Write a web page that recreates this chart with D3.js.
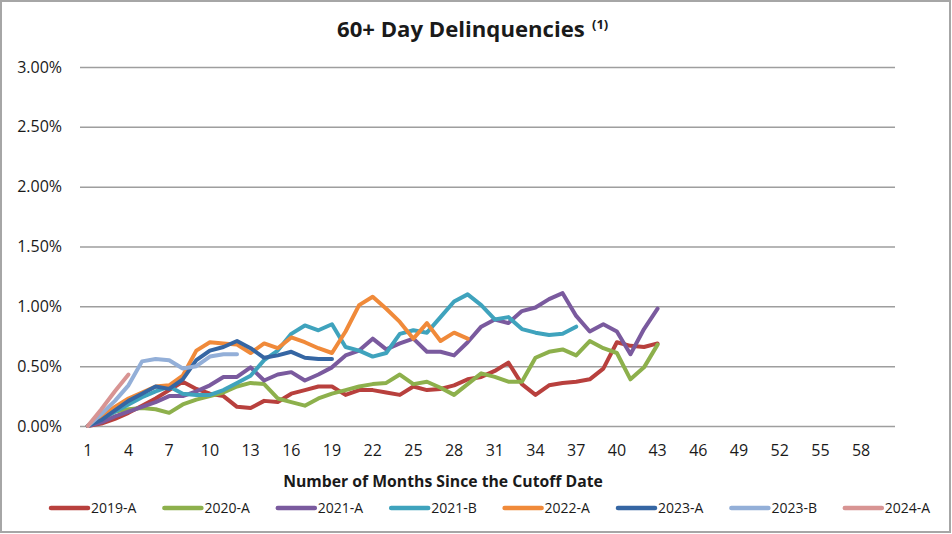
<!DOCTYPE html>
<html>
<head>
<meta charset="utf-8">
<script src="https://cdn.jsdelivr.net/npm/d3@7"></script>
<style>
  html, body { margin: 0; padding: 0; background: #fff; }
  svg { display: block; }
  text { font-family: "Open Sans", "Noto Sans", sans-serif; fill: #1a1a1a; }
</style>
</head>
<body>
<svg id="chart" width="952" height="534"></svg>
<script>
// ---------- data (values in percent) ----------
const months = d3.range(1, 61);
const xTickLabels = [1, 4, 7, 10, 13, 16, 19, 22, 25, 28, 31, 34, 37, 40, 43, 46, 49, 52, 55, 58];
const yTickValues = [0, 0.5, 1.0, 1.5, 2.0, 2.5, 3.0];
const seriesNames = ["2019-A", "2020-A", "2021-A", "2021-B", "2022-A", "2023-A", "2023-B", "2024-A"];
const seriesColors = ["#B8403D", "#8DB04C", "#7A5A9E", "#3FA3BD", "#F08A3A", "#3566A3", "#93AFD8", "#D89493"];

const s2019A = [0.00, 0.02, 0.06, 0.11, 0.17, 0.23, 0.30, 0.37, 0.31, 0.27, 0.25, 0.16, 0.15, 0.21, 0.20, 0.27, 0.30, 0.33, 0.33, 0.26,
                0.30, 0.30, 0.28, 0.26, 0.33, 0.30, 0.31, 0.34, 0.39, 0.41, 0.46, 0.53, 0.35, 0.26, 0.34, 0.36, 0.37, 0.39, 0.48, 0.70,
                0.67, 0.66, 0.69];
const s2020A = [0.00, 0.06, 0.12, 0.14, 0.15, 0.14, 0.11, 0.18, 0.22, 0.25, 0.28, 0.33, 0.36, 0.35, 0.23, 0.20, 0.17, 0.23, 0.27, 0.30,
                0.33, 0.35, 0.36, 0.43, 0.35, 0.37, 0.32, 0.26, 0.35, 0.44, 0.41, 0.37, 0.37, 0.57, 0.62, 0.64, 0.59, 0.71, 0.65, 0.61,
                0.39, 0.49, 0.68];
const s2021A = [0.00, 0.03, 0.08, 0.12, 0.16, 0.20, 0.25, 0.25, 0.29, 0.34, 0.41, 0.41, 0.49, 0.38, 0.43, 0.45, 0.38, 0.43, 0.49, 0.59,
                0.63, 0.73, 0.64, 0.69, 0.73, 0.62, 0.62, 0.59, 0.70, 0.83, 0.89, 0.86, 0.96, 0.99, 1.06, 1.11, 0.92, 0.79, 0.85, 0.79,
                0.60, 0.81, 0.98];
const s2021B = [0.00, 0.06, 0.12, 0.18, 0.24, 0.29, 0.33, 0.27, 0.26, 0.26, 0.30, 0.36, 0.42, 0.55, 0.63, 0.77, 0.84, 0.80, 0.85, 0.66,
                0.63, 0.58, 0.61, 0.77, 0.80, 0.78, 0.91, 1.04, 1.10, 1.01, 0.89, 0.91, 0.81, 0.78, 0.76, 0.77, 0.83];
const s2022A = [0.00, 0.08, 0.16, 0.23, 0.28, 0.33, 0.34, 0.42, 0.63, 0.70, 0.69, 0.68, 0.61, 0.69, 0.65, 0.74, 0.70, 0.65, 0.61, 0.79,
                1.01, 1.08, 0.98, 0.87, 0.73, 0.86, 0.71, 0.78, 0.73];
const s2023A = [0.00, 0.05, 0.13, 0.21, 0.27, 0.33, 0.31, 0.39, 0.55, 0.63, 0.66, 0.71, 0.65, 0.57, 0.59, 0.62, 0.57, 0.56, 0.56];
const s2023B = [0.00, 0.10, 0.21, 0.34, 0.54, 0.56, 0.55, 0.48, 0.50, 0.58, 0.60, 0.60];
const s2024A = [0.00, 0.14, 0.29, 0.43];

const seriesValues = [s2019A, s2020A, s2021A, s2021B, s2022A, s2023A, s2023B, s2024A];
const series = seriesNames.map((name, i) => ({
  name, color: seriesColors[i],
  points: seriesValues[i].map((v, j) => ({ m: months[j], v: v / 100 }))
}));

// ---------- layout ----------
const svg = d3.select("#chart");
const W = 952, H = 534;
const plot = { left: 81, right: 895, top: 67, bottom: 426 };

svg.append("rect").attr("x", 1).attr("y", 1).attr("width", W - 3).attr("height", 531)
  .attr("fill", "#fff").attr("stroke", "#a6a6a6").attr("stroke-width", 2);

const x = d3.scaleBand().domain(months).range([plot.left, plot.right]).padding(0);
const xc = m => x(m) + x.bandwidth() / 2;
const y = d3.scaleLinear().domain([0, 0.03]).range([plot.bottom, plot.top]);

// y axis + gridlines
const yAxis = d3.axisLeft(y)
  .tickValues(yTickValues.map(v => v / 100))
  .tickFormat(d3.format(".2%"))
  .tickSize(-(plot.right - plot.left + 1))
  .tickPadding(18);
const gy = svg.append("g").attr("transform", `translate(${plot.left - 1},0)`).call(yAxis);
gy.select(".domain").remove();
gy.selectAll(".tick line").attr("stroke", "#9e9e9e").attr("stroke-width", 1.5);
gy.selectAll(".tick text").attr("font-size", 16).attr("fill", "#1a1a1a")
  .style("font-family", '"Open Sans", "Noto Sans", sans-serif');

// x axis
const xAxis = d3.axisBottom(x).tickValues(xTickLabels).tickSize(0).tickPadding(19);
const gx = svg.append("g").attr("transform", `translate(0,${plot.bottom})`).call(xAxis);
gx.select(".domain").remove();
gx.selectAll(".tick text").attr("font-size", 16).attr("fill", "#1a1a1a")
  .style("font-family", '"Open Sans", "Noto Sans", sans-serif');

// lines
const line = d3.line().x(d => xc(d.m)).y(d => y(d.v));
svg.append("g").selectAll("path").data(series).join("path")
  .attr("d", d => line(d.points))
  .attr("fill", "none")
  .attr("stroke", d => d.color)
  .attr("stroke-width", 4)
  .attr("stroke-linejoin", "round")
  .attr("stroke-linecap", "round");

// title
function fitText(sel, target) {
  const w = sel.node().getComputedTextLength();
  const fs = parseFloat(sel.attr("font-size"));
  sel.attr("font-size", fs * target / w);
}
const title = svg.append("text").attr("x", 337).attr("y", 37)
  .attr("font-size", 20).attr("font-weight", "bold").text("60+ Day Delinquencies");
fitText(title, 248);
svg.append("text").attr("x", 592).attr("y", 29)
  .attr("font-size", 13).attr("font-weight", "bold").text("(1)");

// x axis title
const xt = svg.append("text").attr("x", 443).attr("y", 487).attr("text-anchor", "middle")
  .attr("font-size", 16).attr("font-weight", "bold").text("Number of Months Since the Cutoff Date");
fitText(xt, 320);

// legend
const legend = svg.append("g").selectAll("g").data(series).join("g")
  .attr("transform", (d, i) => `translate(${50 + i * 113.4},508)`);
legend.append("line").attr("x1", 1).attr("x2", 38).attr("y1", 0).attr("y2", 0)
  .attr("stroke", d => d.color).attr("stroke-width", 4.5).attr("stroke-linecap", "round");
legend.append("text").attr("x", 41).attr("y", 0).attr("dy", "0.35em")
  .attr("font-size", 14).text(d => d.name);
</script>
</body>
</html>
